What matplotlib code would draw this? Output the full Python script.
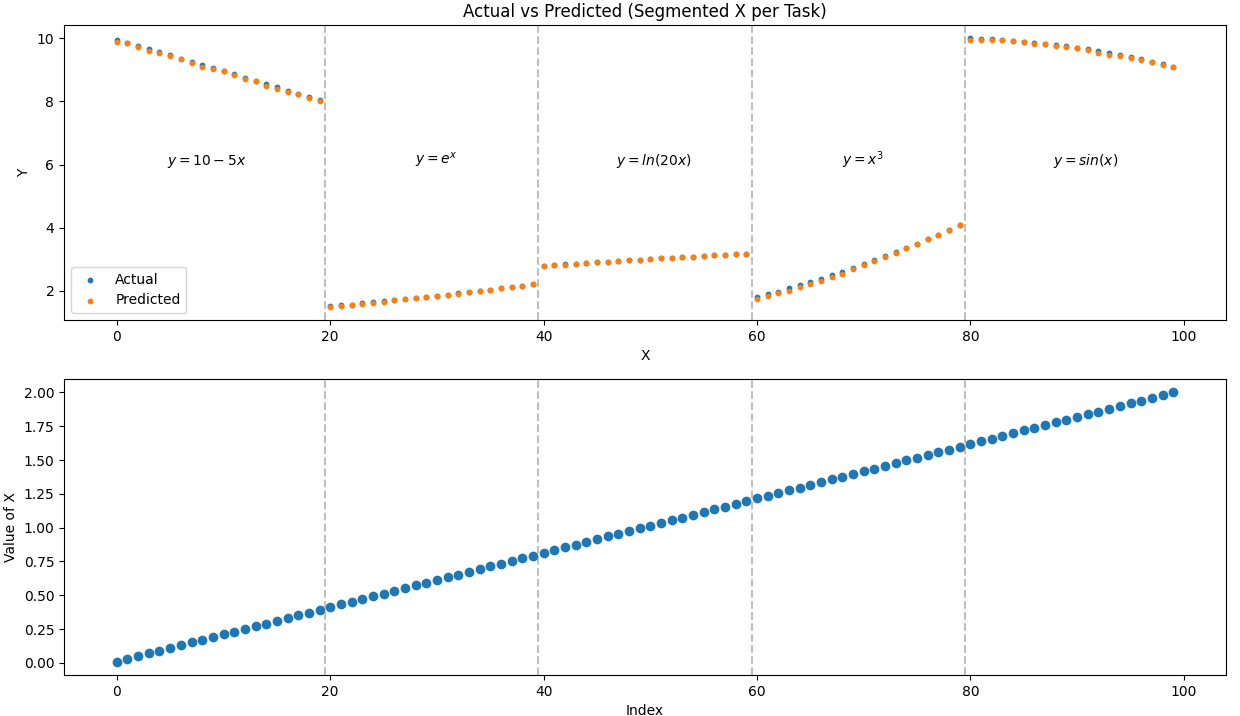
import matplotlib
matplotlib.use("Agg")
import matplotlib.pyplot as plt
import numpy as np

index = list(range(100))

x_values = [
    0.010, 0.030, 0.050, 0.070, 0.090, 0.111, 0.131, 0.151, 0.171, 0.191,
    0.211, 0.231, 0.251, 0.271, 0.291, 0.312, 0.332, 0.352, 0.372, 0.392,
    0.412, 0.432, 0.452, 0.472, 0.492, 0.513, 0.533, 0.553, 0.573, 0.593,
    0.613, 0.633, 0.653, 0.673, 0.693, 0.714, 0.734, 0.754, 0.774, 0.794,
    0.814, 0.834, 0.854, 0.874, 0.894, 0.915, 0.935, 0.955, 0.975, 0.995,
    1.015, 1.035, 1.055, 1.075, 1.095, 1.116, 1.136, 1.156, 1.176, 1.196,
    1.216, 1.236, 1.256, 1.276, 1.296, 1.317, 1.337, 1.357, 1.377, 1.397,
    1.417, 1.437, 1.457, 1.477, 1.497, 1.518, 1.538, 1.558, 1.578, 1.598,
    1.618, 1.638, 1.658, 1.678, 1.698, 1.719, 1.739, 1.759, 1.779, 1.799,
    1.819, 1.839, 1.859, 1.879, 1.899, 1.920, 1.940, 1.960, 1.980, 2.000,
]

actual = [
    9.95, 9.85, 9.75, 9.65, 9.55, 9.45, 9.35, 9.25, 9.15, 9.05,
    8.95, 8.85, 8.75, 8.65, 8.55, 8.44, 8.34, 8.24, 8.14, 8.04,
    1.510, 1.540, 1.571, 1.603, 1.636, 1.670, 1.704, 1.738, 1.774, 1.809,
    1.846, 1.883, 1.921, 1.960, 2.000, 2.042, 2.083, 2.125, 2.168, 2.212,
    2.790, 2.814, 2.838, 2.861, 2.884, 2.907, 2.929, 2.950, 2.970, 2.991,
    3.011, 3.030, 3.049, 3.068, 3.086, 3.105, 3.123, 3.141, 3.158, 3.175,
    1.798, 1.888, 1.981, 2.078, 2.177, 2.284, 2.390, 2.499, 2.611, 2.726,
    2.845, 2.967, 3.093, 3.222, 3.355, 3.498, 3.638, 3.782, 3.929, 4.081,
    9.990, 9.977, 9.962, 9.943, 9.919, 9.890, 9.859, 9.823, 9.784, 9.741,
    9.694, 9.643, 9.588, 9.529, 9.466, 9.397, 9.326, 9.252, 9.174, 9.093,
]

predicted = [
    9.89, 9.83, 9.72, 9.59, 9.54, 9.44, 9.35, 9.21, 9.09, 9.03,
    8.95, 8.82, 8.70, 8.64, 8.50, 8.39, 8.31, 8.23, 8.10, 8.02,
    1.505, 1.535, 1.560, 1.590, 1.625, 1.660, 1.700, 1.735, 1.770, 1.800,
    1.836, 1.873, 1.918, 1.955, 1.998, 2.040, 2.080, 2.120, 2.165, 2.212,
    2.788, 2.812, 2.836, 2.860, 2.883, 2.905, 2.928, 2.950, 2.970, 2.990,
    3.010, 3.030, 3.048, 3.066, 3.085, 3.104, 3.122, 3.140, 3.157, 3.175,
    1.740, 1.840, 1.930, 2.010, 2.120, 2.220, 2.320, 2.440, 2.550, 2.680,
    2.810, 2.940, 3.080, 3.210, 3.345, 3.490, 3.630, 3.775, 3.925, 4.081,
    9.930, 9.930, 9.950, 9.930, 9.900, 9.880, 9.820, 9.800, 9.750, 9.720,
    9.680, 9.630, 9.540, 9.480, 9.430, 9.380, 9.310, 9.230, 9.160, 9.080,
]

boundaries = [19.5, 39.5, 59.5, 79.5]
label_pos = [8.4, 29.9, 50.3, 69.9, 90.8]
labels = [r"$y = 10 - 5x$", r"$y = e^x$", r"$y = ln(20x)$", r"$y = x^3$", r"$y = sin(x)$"]

W, H = 1240, 716
fig = plt.figure(figsize=(12.4, 7.16), dpi=100)
ax1 = fig.add_axes([64 / W, 1 - 320 / H, (1226 - 64) / W, (320 - 25) / H])
ax2 = fig.add_axes([64 / W, 1 - 675 / H, (1226 - 64) / W, (675 - 379) / H])

ax1.scatter(index, actual, s=10, label="Actual")
ax1.scatter(index, predicted, s=10, label="Predicted")
for b in boundaries:
    ax1.axvline(b, color="gray", linestyle="--", alpha=0.5)
for xp, lab in zip(label_pos, labels):
    ax1.text(xp, 6, lab, ha="center")
ax1.set_title("Actual vs Predicted (Segmented X per Task)")
ax1.set_xlabel("X")
ax1.set_ylabel("Y")
ax1.legend(loc="lower left")

ax2.scatter(index, x_values)
for b in boundaries:
    ax2.axvline(b, color="gray", linestyle="--", alpha=0.5)
ax2.set_xlabel("Index")
ax2.set_ylabel("Value of X")

fig.savefig("out.png")
